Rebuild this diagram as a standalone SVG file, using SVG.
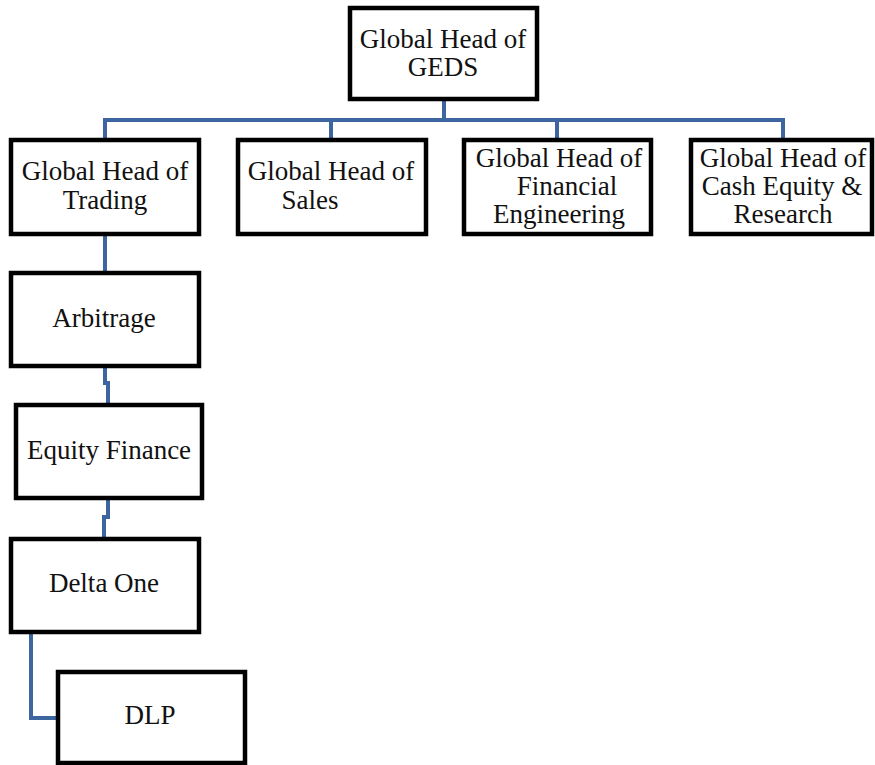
<svg xmlns="http://www.w3.org/2000/svg" width="875" height="765" viewBox="0 0 875 765">
<style>
.box{fill:#fff;stroke:#000;stroke-width:4.5}
.lbl{font-family:"Liberation Serif","Times New Roman",serif;font-size:27px;fill:#111;text-anchor:middle}
.con{fill:none;stroke:#3d65a0;stroke-width:4}
</style>
<rect width="875" height="765" fill="#fff"/>
<g id="connectors">
<path class="con" d="M444 99V120M105 139V120H783V139M331 120V139M557 120V139"/>
<path class="con" d="M105 234V272"/>
<path class="con" d="M105 366V383H108V404"/>
<path class="con" d="M108 498V517H104V538"/>
<path class="con" d="M31 632V718H57"/>
</g>
<g id="geds"><rect class="box" x="350" y="8" width="187" height="91"/><text class="lbl" x="443" y="48">Global Head of</text><text class="lbl" x="443" y="76">GEDS</text></g>
<g id="trading"><rect class="box" x="11" y="140" width="188" height="94"/><text class="lbl" x="105" y="180">Global Head of</text><text class="lbl" x="105" y="209">Trading</text></g>
<g id="sales"><rect class="box" x="238" y="140" width="188" height="94"/><text class="lbl" x="331" y="180">Global Head of</text><text class="lbl" x="310" y="209">Sales</text></g>
<g id="fineng"><rect class="box" x="464" y="140" width="187" height="94"/><text class="lbl" x="559" y="167">Global Head of</text><text class="lbl" x="567" y="195">Financial</text><text class="lbl" x="559" y="223">Engineering</text></g>
<g id="cash"><rect class="box" x="691" y="140" width="181" height="94"/><text class="lbl" x="783" y="167">Global Head of</text><text class="lbl" x="782" y="195">Cash Equity &amp;</text><text class="lbl" x="783" y="223">Research</text></g>
<g id="arbitrage"><rect class="box" x="11" y="273" width="188" height="93"/><text class="lbl" x="104" y="327">Arbitrage</text></g>
<g id="equityfinance"><rect class="box" x="16" y="405" width="186" height="93"/><text class="lbl" x="109" y="459">Equity Finance</text></g>
<g id="deltaone"><rect class="box" x="11" y="539" width="188" height="93"/><text class="lbl" x="104" y="592">Delta One</text></g>
<g id="dlp"><rect class="box" x="58" y="672" width="187" height="91"/><text class="lbl" x="150" y="724">DLP</text></g>
</svg>
